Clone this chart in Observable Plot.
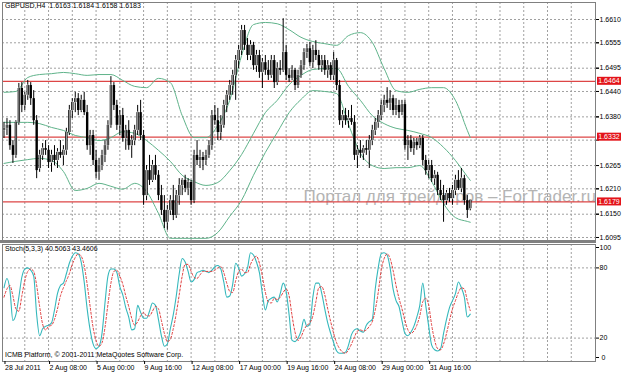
<!DOCTYPE html>
<html><head><meta charset="utf-8">
<script src="https://cdn.jsdelivr.net/npm/d3@7"></script>
<script src="https://cdn.jsdelivr.net/npm/@observablehq/plot@0.6"></script>
<style>
body{margin:0;background:#fff}
#wrap{position:relative;width:623px;height:373px;overflow:hidden;font-family:"Liberation Sans",Arial,sans-serif}
#wrap svg{position:absolute;left:0}
.lbl{position:absolute;font-size:7px;line-height:8px;color:#000;white-space:pre}
.sep{position:absolute;left:0;top:240px;width:596px;height:3px;background:#808080}
</style></head>
<body><div id="wrap"></div>
<script>
// ---- candle data (GBPUSD H4), bar index 0..157 ----
const open = [1.6348,1.6353,1.6360,1.6312,1.6289,1.6367,1.6447,1.6407,1.6431,1.6454,
1.6423,1.6371,1.6258,1.6289,1.6305,1.6301,1.6272,1.6289,1.6277,1.6296,
1.6289,1.6301,1.6343,1.6395,1.6414,1.6423,1.6395,1.6419,1.6390,1.6312,
1.6336,1.6277,1.6249,1.6265,1.6289,1.6312,1.6360,1.6454,1.6407,1.6360,
1.6383,1.6329,1.6348,1.6312,1.6324,1.6348,1.6390,1.6336,1.6194,1.6253,
1.6230,1.6265,1.6242,1.6194,1.6159,1.6131,1.6159,1.6182,1.6147,1.6194,
1.6218,1.6230,1.6211,1.6225,1.6182,1.6289,1.6277,1.6284,1.6277,1.6289,
1.6312,1.6383,1.6371,1.6343,1.6360,1.6407,1.6431,1.6454,1.6478,1.6513,
1.6537,1.6584,1.6549,1.6525,1.6549,1.6501,1.6525,1.6485,1.6508,1.6490,
1.6478,1.6513,1.6461,1.6494,1.6490,1.6532,1.6478,1.6471,1.6490,1.6454,
1.6478,1.6501,1.6532,1.6541,1.6508,1.6537,1.6525,1.6501,1.6513,1.6490,
1.6501,1.6478,1.6513,1.6454,1.6371,1.6383,1.6371,1.6376,1.6367,1.6289,
1.6301,1.6294,1.6305,1.6301,1.6324,1.6348,1.6367,1.6383,1.6407,1.6419,
1.6412,1.6423,1.6395,1.6407,1.6390,1.6409,1.6312,1.6324,1.6305,1.6320,
1.6312,1.6329,1.6277,1.6253,1.6265,1.6234,1.6242,1.6206,1.6194,1.6182,
1.6199,1.6187,1.6206,1.6230,1.6211,1.6234,1.6182,1.6163];
const high = [1.6367,1.6376,1.6371,1.6324,1.6371,1.6459,1.6461,1.6438,1.6466,1.6461,
1.6442,1.6383,1.6301,1.6317,1.6324,1.6312,1.6301,1.6312,1.6305,1.6324,
1.6312,1.6353,1.6407,1.6423,1.6438,1.6435,1.6431,1.6438,1.6407,1.6348,
1.6348,1.6301,1.6282,1.6301,1.6324,1.6371,1.6475,1.6461,1.6419,1.6395,
1.6400,1.6360,1.6371,1.6336,1.6360,1.6407,1.6419,1.6348,1.6265,1.6289,
1.6277,1.6289,1.6253,1.6218,1.6194,1.6171,1.6194,1.6218,1.6206,1.6234,
1.6234,1.6242,1.6234,1.6230,1.6301,1.6324,1.6301,1.6296,1.6301,1.6324,
1.6395,1.6407,1.6400,1.6383,1.6419,1.6442,1.6466,1.6490,1.6525,1.6549,
1.6596,1.6596,1.6565,1.6560,1.6556,1.6537,1.6537,1.6518,1.6525,1.6513,
1.6525,1.6525,1.6508,1.6513,1.6612,1.6549,1.6494,1.6501,1.6494,1.6490,
1.6513,1.6541,1.6551,1.6556,1.6549,1.6560,1.6537,1.6525,1.6525,1.6513,
1.6508,1.6532,1.6518,1.6466,1.6395,1.6400,1.6395,1.6407,1.6383,1.6312,
1.6324,1.6312,1.6324,1.6336,1.6360,1.6376,1.6395,1.6419,1.6431,1.6449,
1.6442,1.6431,1.6423,1.6419,1.6419,1.6419,1.6336,1.6336,1.6329,1.6329,
1.6336,1.6336,1.6289,1.6277,1.6277,1.6253,1.6249,1.6230,1.6218,1.6206,
1.6211,1.6218,1.6242,1.6253,1.6258,1.6242,1.6194,1.6184];
const low = [1.6329,1.6336,1.6301,1.6270,1.6282,1.6360,1.6390,1.6395,1.6419,1.6407,
1.6360,1.6234,1.6249,1.6277,1.6289,1.6258,1.6249,1.6265,1.6258,1.6282,
1.6265,1.6289,1.6336,1.6376,1.6390,1.6383,1.6390,1.6383,1.6301,1.6289,
1.6265,1.6234,1.6230,1.6253,1.6272,1.6301,1.6353,1.6395,1.6348,1.6336,
1.6320,1.6301,1.6301,1.6282,1.6312,1.6336,1.6324,1.6171,1.6182,1.6218,
1.6225,1.6230,1.6182,1.6147,1.6116,1.6112,1.6147,1.6135,1.6140,1.6171,
1.6194,1.6201,1.6194,1.6171,1.6175,1.6265,1.6258,1.6253,1.6265,1.6282,
1.6301,1.6360,1.6324,1.6324,1.6353,1.6390,1.6419,1.6431,1.6419,1.6494,
1.6525,1.6537,1.6513,1.6513,1.6490,1.6485,1.6471,1.6447,1.6478,1.6466,
1.6471,1.6447,1.6454,1.6478,1.6485,1.6466,1.6461,1.6466,1.6442,1.6447,
1.6471,1.6490,1.6518,1.6499,1.6494,1.6513,1.6490,1.6485,1.6478,1.6471,
1.6466,1.6466,1.6442,1.6360,1.6353,1.6360,1.6353,1.6360,1.6277,1.6258,
1.6282,1.6277,1.6289,1.6258,1.6312,1.6336,1.6353,1.6371,1.6390,1.6400,
1.6395,1.6383,1.6383,1.6376,1.6383,1.6301,1.6277,1.6296,1.6289,1.6301,
1.6305,1.6265,1.6242,1.6234,1.6225,1.6218,1.6194,1.6182,1.6131,1.6171,
1.6178,1.6171,1.6194,1.6206,1.6201,1.6171,1.6140,1.6158];
const close = [1.6353,1.6360,1.6312,1.6289,1.6367,1.6447,1.6407,1.6431,1.6454,1.6423,
1.6371,1.6253,1.6289,1.6305,1.6301,1.6272,1.6289,1.6277,1.6296,1.6289,
1.6301,1.6343,1.6395,1.6414,1.6423,1.6395,1.6419,1.6390,1.6312,1.6336,
1.6277,1.6249,1.6265,1.6289,1.6312,1.6360,1.6454,1.6407,1.6360,1.6383,
1.6329,1.6348,1.6312,1.6324,1.6348,1.6390,1.6336,1.6194,1.6253,1.6230,
1.6265,1.6242,1.6194,1.6159,1.6131,1.6159,1.6182,1.6147,1.6194,1.6218,
1.6230,1.6211,1.6225,1.6182,1.6289,1.6277,1.6284,1.6277,1.6289,1.6312,
1.6383,1.6371,1.6343,1.6360,1.6407,1.6431,1.6454,1.6478,1.6513,1.6537,
1.6584,1.6549,1.6525,1.6549,1.6501,1.6525,1.6485,1.6508,1.6490,1.6478,
1.6513,1.6461,1.6494,1.6490,1.6532,1.6478,1.6471,1.6490,1.6454,1.6478,
1.6501,1.6532,1.6541,1.6508,1.6537,1.6525,1.6501,1.6513,1.6490,1.6501,
1.6478,1.6513,1.6454,1.6371,1.6383,1.6371,1.6376,1.6367,1.6289,1.6301,
1.6294,1.6305,1.6301,1.6324,1.6348,1.6367,1.6383,1.6407,1.6419,1.6412,
1.6423,1.6395,1.6407,1.6390,1.6409,1.6312,1.6324,1.6305,1.6320,1.6312,
1.6329,1.6277,1.6253,1.6265,1.6234,1.6242,1.6206,1.6194,1.6182,1.6199,
1.6187,1.6206,1.6230,1.6211,1.6234,1.6182,1.6159,1.6183];

// ---- Bollinger bands read at these bars ----
const bbBars = [0,4,8,12,16,20,24,28,32,36,40,44,48,52,56,60,64,68,72,76,80,84,88,92,96,100,104,108,112,116,120,124,128,132,136,140,144,148,152,156,157];
const bbUpper = [1.6438,1.6440,1.6473,1.6480,1.6482,1.6485,1.6482,1.6478,1.6480,1.6480,
1.6466,1.6452,1.6449,1.6471,1.6461,1.6383,1.6331,1.6331,1.6360,1.6419,
1.6525,1.6598,1.6603,1.6600,1.6586,1.6568,1.6558,1.6553,1.6549,1.6572,
1.6579,1.6556,1.6494,1.6442,1.6438,1.6445,1.6449,1.6449,1.6419,1.6348,1.6331];
const bbMiddle = [1.6367,1.6367,1.6367,1.6364,1.6355,1.6348,1.6336,1.6331,1.6324,1.6331,
1.6345,1.6341,1.6324,1.6301,1.6275,1.6242,1.6227,1.6218,1.6225,1.6253,
1.6291,1.6341,1.6390,1.6419,1.6456,1.6478,1.6492,1.6494,1.6494,1.6452,
1.6419,1.6383,1.6364,1.6353,1.6348,1.6341,1.6331,1.6308,1.6277,1.6239,1.6230];
const bbLower = [1.6270,1.6275,1.6279,1.6282,1.6277,1.6251,1.6206,1.6211,1.6223,1.6216,
1.6209,1.6223,1.6204,1.6152,1.6093,1.6093,1.6093,1.6093,1.6107,1.6145,
1.6183,1.6242,1.6296,1.6343,1.6390,1.6421,1.6442,1.6440,1.6435,1.6362,
1.6294,1.6265,1.6258,1.6260,1.6260,1.6265,1.6227,1.6175,1.6142,1.6133,1.6131];

// ---- Stochastic (5,3,3), one value per bar ----
const stochK = [63,71,61,35,40,55,72,79,80,78,73,40,22,28,30,31,33,44,58,65,
67,75,84,90,93,92,85,68,45,27,15,11,13,24,50,73,79,79,76,64,
57,46,38,27,28,48,42,37,37,43,50,48,36,22,13,15,28,40,56,75,
88,85,77,68,70,76,77,78,77,76,78,81,82,79,68,55,56,66,84,80,
73,75,80,93,91,85,76,58,44,52,54,55,51,58,67,60,40,18,17,20,
26,36,30,32,55,67,67,58,45,33,24,16,9,7,7,8,14,23,27,28,
26,25,31,34,36,62,80,92,93,91,80,62,52,47,35,24,22,25,30,38,
48,67,48,30,14,10,9,11,24,36,46,52,58,68,63,55,38,40.5063];
const stochD = [55,62,65,56,45,43,56,69,77,79,77,65,47,32,27,30,31,36,45,56,
63,69,75,83,89,92,90,82,66,47,29,18,13,16,29,49,67,77,78,73,
66,56,47,37,31,34,39,42,39,39,43,47,45,35,24,17,19,28,41,57,
73,83,83,77,72,71,74,77,77,77,77,78,80,81,76,67,60,59,69,77,
79,76,76,83,88,90,84,73,59,51,50,54,53,55,59,62,56,39,25,18,
21,27,31,33,39,51,63,64,57,45,34,24,16,11,8,7,10,15,21,26,
27,26,27,30,34,44,59,78,88,92,88,78,65,54,45,35,27,24,26,31,
39,51,54,48,31,18,11,10,15,24,35,45,52,59,63,62,52,43.4606];

// ---- axes / levels ----
const priceGrid = [1.6610,1.6555,1.6495,1.6440,1.6380,1.6325,1.6265,1.6210,1.6150,1.6095];
const priceTickLabels = [1.6610,1.6555,1.6495,1.6440,1.6380,1.6265,1.6210,1.6150,1.6095];
const levels = [1.6464,1.6332,1.6179];
const gridBars = [7,15,23,31,39,47,55,63,71,79,87,95,103,111,119,127,135,143,151,159,167,175,183,191];
const xLabelBars = [0,15,31,47,63,79,95,111,127,143];
const xLabels = ["28 Jul 2011","2 Aug 08:00","5 Aug 00:00","9 Aug 16:00","12 Aug 08:00","17 Aug 00:00","19 Aug 16:00","24 Aug 08:00","29 Aug 00:00","31 Aug 16:00"];
const stochGrid = [20,80];
const stochTicks = [20,80];
const title = "GBPUSD,H4  1.6163 1.6184 1.6158 1.6183";
const stochTitle = "Stoch(5,3,3) 40.5063 43.4606";
const copyright = "ICMB Platform, © 2001-2011 MetaQuotes Software Corp.";
const watermark = "Портал для трейдеров – ForTrader.ru";

// ---- tables ----
const candles = open.map((o, i) => ({i, open: o, high: high[i], low: low[i], close: close[i]}));
const bulls = candles.filter(d => d.close > d.open);
const bands = bbBars.map((b, k) => ({i: b, upper: bbUpper[k], middle: bbMiddle[k], lower: bbLower[k]}));

const font = "Liberation Sans, Arial, sans-serif";
const xDomain = [-0.505, 199.16];
const green = "#5fb38a";
const gridStyle = {stroke: "#a0a0a0", strokeOpacity: 1, strokeDasharray: "2,2"};
const fmt4 = d3.format(".4f");

function levelLabels(index, scales, values, dims) {
  const g = d3.create("svg:g");
  const x0 = dims.width - dims.marginRight + 2;
  for (const v of levels) {
    const y = scales.y(v);
    g.append("rect").attr("x", x0).attr("y", y - 4).attr("width", 24).attr("height", 8).attr("fill", "#e3141a");
    g.append("text").attr("x", x0 + 12).attr("y", y).attr("dy", "0.35em")
      .attr("text-anchor", "middle").attr("fill", "#fff").attr("font-size", 7).text(fmt4(v));
  }
  return g.node();
}

const main = Plot.plot({
  width: 623, height: 241, marginTop: 2, marginBottom: 1, marginLeft: 2, marginRight: 28,
  style: {fontFamily: font, fontSize: "7px", background: "transparent", overflow: "visible"},
  x: {domain: xDomain, axis: null},
  y: {domain: [1.60879, 1.66502], axis: null},
  marks: [
    Plot.gridX(gridBars, gridStyle),
    Plot.gridY(priceGrid, gridStyle),
    Plot.text([watermark], {frameAnchor: "top-left", dx: 301, dy: 187, fontSize: 17, fill: "#b4b4b4"}),
    Plot.ruleY(levels, {stroke: "#dd4646", strokeWidth: 1.3}),
    Plot.line(bands, {x: "i", y: "upper", stroke: green, strokeWidth: 1, curve: "monotone-x"}),
    Plot.line(bands, {x: "i", y: "middle", stroke: green, strokeWidth: 1, curve: "monotone-x"}),
    Plot.line(bands, {x: "i", y: "lower", stroke: green, strokeWidth: 1, curve: "monotone-x"}),
    Plot.ruleX(candles, {x: "i", y1: "low", y2: "high", stroke: "#000", strokeWidth: 1}),
    Plot.ruleX(candles, {x: "i", y1: "open", y2: "close", stroke: "#000", strokeWidth: 2.4}),
    Plot.ruleX(bulls, {x: "i", y1: "open", y2: "close", stroke: "#bdbdbd", strokeWidth: 0.9, insetTop: 0.8, insetBottom: 0.8}),
    Plot.frame({stroke: "#808080"}),
    Plot.axisY(priceGrid, {anchor: "right", tickFormat: () => "", tickSize: 3, label: null}),
    Plot.axisY(priceTickLabels, {anchor: "right", tickFormat: fmt4, tickSize: 3, tickPadding: 1, label: null, fontSize: 7}),
    levelLabels
  ]
});
main.style.top = "0px";

const stoch = Plot.plot({
  width: 623, height: 130, marginTop: 1, marginBottom: 12, marginLeft: 2, marginRight: 28,
  style: {fontFamily: font, fontSize: "7px", background: "transparent", overflow: "visible"},
  x: {domain: xDomain, axis: null},
  y: {domain: [0, 100], axis: null},
  marks: [
    Plot.gridX(gridBars, gridStyle),
    Plot.gridY(stochGrid, gridStyle),
    Plot.line(stochK, {x: (d, i) => i, y: d => d, stroke: "#35b8bc", strokeWidth: 1.1, curve: "monotone-x"}),
    Plot.line(stochD, {x: (d, i) => i, y: d => d, stroke: "#e03c3c", strokeWidth: 1, strokeDasharray: "2,2", curve: "monotone-x"}),
    Plot.frame({stroke: "#808080"}),
    Plot.axisY(stochTicks, {anchor: "right", tickSize: 3, tickPadding: 1, label: null, fontSize: 7}),
    Plot.axisY([100], {anchor: "right", tickSize: 3, tickPadding: 1, label: null, fontSize: 7, dy: 3}),
    Plot.axisY([0], {anchor: "right", tickSize: 3, tickPadding: 3, label: null, fontSize: 7, dy: -4}),
    Plot.axisX(xLabelBars, {anchor: "bottom", tickSize: 3, tickPadding: 1, label: null, fontSize: 7,
      textAnchor: "start", dx: 1, tickFormat: d => xLabels[xLabelBars.indexOf(d)]})
  ]
});
stoch.style.top = "243px";

const wrap = document.getElementById("wrap");
wrap.appendChild(main);
const sep = document.createElement("div"); sep.className = "sep"; wrap.appendChild(sep);
wrap.appendChild(stoch);
function addLabel(text, left, top) {
  const d = document.createElement("div");
  d.className = "lbl"; d.textContent = text;
  d.style.left = left + "px"; d.style.top = top + "px";
  wrap.appendChild(d);
}
addLabel(title, 5, 2);
addLabel(stochTitle, 5, 245);
addLabel(copyright, 5, 351);
</script></body></html>
